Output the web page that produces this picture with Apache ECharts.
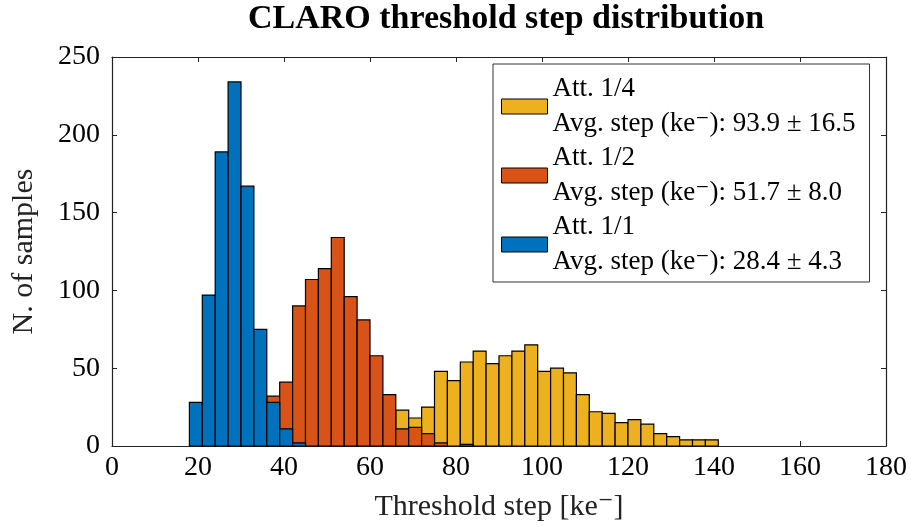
<!DOCTYPE html>
<html>
<head>
<meta charset="utf-8">
<script src="https://cdn.jsdelivr.net/npm/echarts@6/dist/echarts.min.js"></script>
<style>
html,body{margin:0;padding:0;background:#fff;}
#chart{width:911px;height:527px;}
</style>
</head>
<body>
<div id="chart"></div>
<script>
// ---- data (histogram bins of width 3, counts) ----
const binWidth = 3;
const seriesNames = ['Att. 1/4', 'Att. 1/2', 'Att. 1/1'];
const seriesStats = ['Avg. step (ke\u207B): 93.9 \u00B1 16.5', 'Avg. step (ke\u207B): 51.7 \u00B1 8.0', 'Avg. step (ke\u207B): 28.4 \u00B1 4.3'];
const att14Start = 66;
const att14Counts = [23, 18, 25, 48, 42, 54, 61, 53, 58, 61, 65, 48, 50, 47, 33, 22, 21, 15, 17, 14, 8, 6, 4, 4, 4];
const att12Start = 36;
const att12Counts = [32, 41, 90, 107, 114, 134, 96, 81, 58, 33, 11, 12, 8, 2, 0, 1];
const att11Start = 18;
const att11Counts = [28, 97, 189, 234, 167, 75, 28, 11, 2];
const xTicks = [0, 20, 40, 60, 80, 100, 120, 140, 160, 180];
const yTicks = [0, 50, 100, 150, 200, 250];
const titleText = 'CLARO threshold step distribution';
const xLabel = 'Threshold step [ke\u207B]';
const yLabel = 'N. of samples';

const colors = ['#EDB120', '#D95319', '#0072BD'];
const FONT = "'Liberation Serif', 'DejaVu Serif', serif";

function toBins(start, counts) {
  return counts.map((c, i) => [start + i * binWidth, c]);
}
const seriesData = [toBins(att14Start, att14Counts), toBins(att12Start, att12Counts), toBins(att11Start, att11Counts)];

function makeRender(color) {
  return function (params, api) {
    const x0 = api.value(0);
    const y = api.value(1);
    if (!y) return null;
    const p0 = api.coord([x0, y]);
    const p1 = api.coord([x0 + binWidth, 0]);
    return {
      type: 'rect',
      shape: { x: p0[0], y: p0[1], width: p1[0] - p0[0], height: p1[1] - p0[1] },
      style: { fill: color, stroke: '#000', lineWidth: 1.2 }
    };
  };
}

const xMin = xTicks[0], xMax = xTicks[xTicks.length - 1];
const yMin = yTicks[0], yMax = yTicks[yTicks.length - 1];
const xInt = xTicks[1] - xTicks[0], yInt = yTicks[1] - yTicks[0];

const axisLine = { show: true, onZero: false, lineStyle: { color: '#222', width: 1.2 } };
const axisTick = { show: true, inside: true, length: 5, lineStyle: { color: '#222', width: 1 } };

const chart = echarts.init(document.getElementById('chart'), null, { renderer: 'canvas' });
chart.setOption({
  backgroundColor: '#fff',
  animation: false,
  title: {
    text: titleText,
    left: 501,
    top: -3,
    textAlign: 'center',
    textStyle: { fontFamily: FONT, fontWeight: 'bold', fontSize: 34, color: '#000' }
  },
  grid: { left: 112, right: 25, top: 57, bottom: 81, containLabel: false },
  legend: {
    orient: 'vertical',
    left: 493,
    top: 64,
    data: seriesNames,
    icon: 'rect',
    itemWidth: 46,
    itemHeight: 15,
    itemGap: 0,
    itemStyle: { borderColor: '#000', borderWidth: 1 },
    formatter: function (name) { return name + '\n' + seriesStats[seriesNames.indexOf(name)]; },
    textStyle: { fontFamily: FONT, fontSize: 27, lineHeight: 34.5, color: '#000' },
    backgroundColor: '#fff',
    borderColor: '#333',
    borderWidth: 1,
    borderRadius: 0,
    padding: [8, 14, 3, 8]
  },
  xAxis: [
    {
      type: 'value', min: xMin, max: xMax, interval: xInt, position: 'bottom',
      name: xLabel, nameLocation: 'middle', nameGap: 46,
      nameTextStyle: { fontFamily: FONT, fontSize: 30, color: '#222' },
      axisLine: axisLine, axisTick: axisTick,
      axisLabel: { fontFamily: FONT, fontSize: 28, color: '#000', margin: 8 },
      splitLine: { show: false }
    },
    {
      type: 'value', min: xMin, max: xMax, interval: xInt, position: 'top',
      axisLine: axisLine, axisTick: axisTick, axisLabel: { show: false }, splitLine: { show: false }
    }
  ],
  yAxis: [
    {
      type: 'value', min: yMin, max: yMax, interval: yInt, position: 'left',
      name: yLabel, nameLocation: 'middle', nameGap: 73, nameRotate: 90,
      nameTextStyle: { fontFamily: FONT, fontSize: 30, color: '#222' },
      axisLine: axisLine, axisTick: axisTick,
      axisLabel: { fontFamily: FONT, fontSize: 28, color: '#000', margin: 12 },
      splitLine: { show: false }
    },
    {
      type: 'value', min: yMin, max: yMax, interval: yInt, position: 'right',
      axisLine: axisLine, axisTick: axisTick, axisLabel: { show: false }, splitLine: { show: false }
    }
  ],
  series: seriesNames.map((name, i) => ({
    name: name,
    type: 'custom',
    xAxisIndex: 0,
    yAxisIndex: 0,
    renderItem: makeRender(colors[i]),
    itemStyle: { color: colors[i], borderColor: '#000', borderWidth: 1 },
    encode: { x: 0, y: 1 },
    data: seriesData[i],
    z: 2 + i
  }))
});
</script>
</body>
</html>
